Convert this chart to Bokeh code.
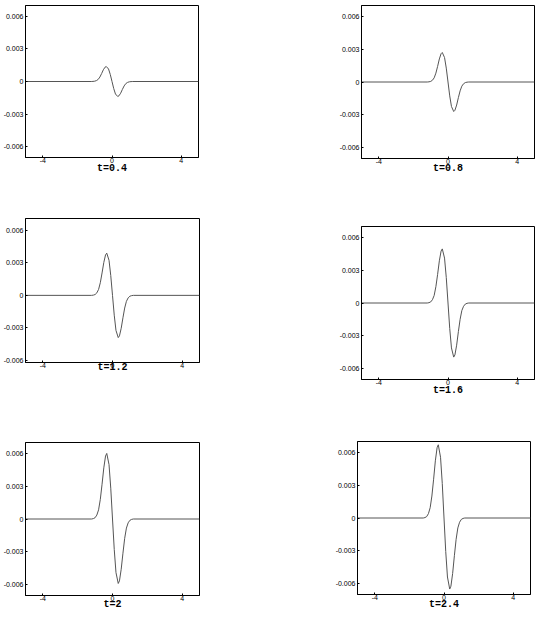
from bokeh.plotting import figure
from bokeh.layouts import column, row
from bokeh.models import FixedTicker, Range1d
from bokeh.embed import file_html
from bokeh.resources import INLINE

# ---- data ----
x = [-5, -1.2, -1.1, -1.0, -0.9, -0.8, -0.7, -0.6, -0.5, -0.4, -0.33, -0.2, -0.1, 0,
     0.1, 0.2, 0.33, 0.4, 0.5, 0.6, 0.7, 0.8, 0.9, 1.0, 1.1, 1.2, 5]

y_t04 = [0, 0, 0.00001, 0.000028, 0.000083, 0.00019, 0.00041, 0.00073, 0.00108, 0.00132, 0.00138, 0.00115, 0.00065, 0,
         -0.00065, -0.00115, -0.00138, -0.00132, -0.00108, -0.00073, -0.00041, -0.00019, -0.000083, -0.000028, -0.00001, 0, 0]
y_t08 = [0, 0, 0.000016, 0.000054, 0.00016, 0.00038, 0.00081, 0.00143, 0.00211, 0.00259, 0.0027, 0.00224, 0.00127, 0,
         -0.00127, -0.00224, -0.0027, -0.00259, -0.00211, -0.00143, -0.00081, -0.00038, -0.00016, -0.000054, -0.000016, 0, 0]
y_t12 = [0, 0, 0.000023, 0.000078, 0.00023, 0.00055, 0.00117, 0.00207, 0.00304, 0.00374, 0.0039, 0.00324, 0.00183, 0,
         -0.00183, -0.00324, -0.0039, -0.00374, -0.00304, -0.00207, -0.00117, -0.00055, -0.00023, -0.000078, -0.000023, 0, 0]
y_t16 = [0, 0, 0.00003, 0.0001, 0.0003, 0.00069, 0.00149, 0.00262, 0.00386, 0.00475, 0.00495, 0.00411, 0.00233, 0,
         -0.00233, -0.00411, -0.00495, -0.00475, -0.00386, -0.00262, -0.00149, -0.00069, -0.0003, -0.0001, -0.00003, 0, 0]
y_t20 = [0, 0, 0.000036, 0.00012, 0.00036, 0.00084, 0.0018, 0.00318, 0.00468, 0.00576, 0.006, 0.00498, 0.00282, 0,
         -0.00278, -0.0049, -0.0059, -0.00566, -0.0046, -0.00313, -0.00177, -0.00083, -0.00035, -0.00012, -0.000035, 0, 0]
y_t24 = [0, 0, 0.00004, 0.00013, 0.0004, 0.00094, 0.00201, 0.00355, 0.00523, 0.00643, 0.0067, 0.00556, 0.00315, 0,
         -0.00306, -0.0054, -0.0065, -0.00624, -0.00507, -0.00345, -0.00195, -0.00091, -0.00039, -0.00013, -0.00004, 0, 0]

titles = ["t=0.4", "t=0.8", "t=1.2", "t=1.6", "t=2", "t=2.4"]
series = [y_t04, y_t08, y_t12, y_t16, y_t20, y_t24]

x_ticks = [-4, 0, 4]
x_tick_labels = ["-4", "0", "4"]
y_ticks = [-0.006, -0.003, 0, 0.003, 0.006]
y_tick_labels = ["-0.006", "-0.003", "0", "0.003", "0.006"]

x_range = (-5, 5)
y_ranges = [(-0.007, 0.007), (-0.007, 0.007), (-0.0062, 0.0071),
            (-0.007, 0.007), (-0.007, 0.007), (-0.007, 0.007)]

# ---- layout (styling) ----
# (left border, top border, frame w, frame h, right border, bottom border, title standoff)
geom = [
    (18, 5, 173, 152, 131, 43, -3),
    (32, 5, 173, 153, 5, 42, -4),
    (18, 18, 174, 144, 130, 58, -9),
    (31, 26, 173, 153, 6, 41, -3),
    (18, 22, 174, 153, 130, 25, -5),
    (28, 21, 173, 153, 13, 26, -4),
]

figs = []
for i in range(6):
    L, T, FW, FH, R, B, tst = geom[i]
    p = figure(frame_width=FW, frame_height=FH, output_backend="svg", toolbar_location=None,
               x_range=Range1d(*x_range), y_range=Range1d(*y_ranges[i]),
               min_border_left=L, min_border_top=T,
               min_border_right=R, min_border_bottom=B)
    p.line(x, series[i], line_color="#555555", line_width=1)
    p.xgrid.visible = False
    p.ygrid.visible = False
    p.outline_line_color = "black"
    p.outline_line_width = 1
    p.background_fill_color = "white"
    p.border_fill_color = "white"
    for ax in (p.xaxis[0], p.yaxis[0]):
        ax.axis_line_color = "black"
        ax.major_tick_in = 2
        ax.major_tick_out = 0
        ax.minor_tick_line_color = None
        ax.major_label_standoff = 2
        ax.major_label_text_font = "Liberation Sans"
        ax.major_label_text_font_size = "7px"
        ax.major_label_text_color = "black"
    p.xaxis[0].ticker = FixedTicker(ticks=x_ticks)
    p.xaxis[0].major_label_overrides = dict(zip(x_ticks, x_tick_labels))
    p.xaxis[0].major_label_standoff = 0
    p.xaxis[0].axis_label = titles[i]
    p.xaxis[0].axis_label_text_font = "Liberation Mono"
    p.xaxis[0].axis_label_text_font_style = "bold"
    p.xaxis[0].axis_label_text_font_size = "10px"
    p.xaxis[0].axis_label_text_color = "black"
    p.xaxis[0].axis_label_standoff = tst
    p.yaxis[0].ticker = FixedTicker(ticks=y_ticks)
    p.yaxis[0].major_label_overrides = dict(zip(y_ticks, y_tick_labels))
    figs.append(p)

layout = row(column(figs[0], figs[2], figs[4]),
             column(figs[1], figs[3], row(figs[5])))

open("out.html", "w").write(file_html(layout, INLINE))
